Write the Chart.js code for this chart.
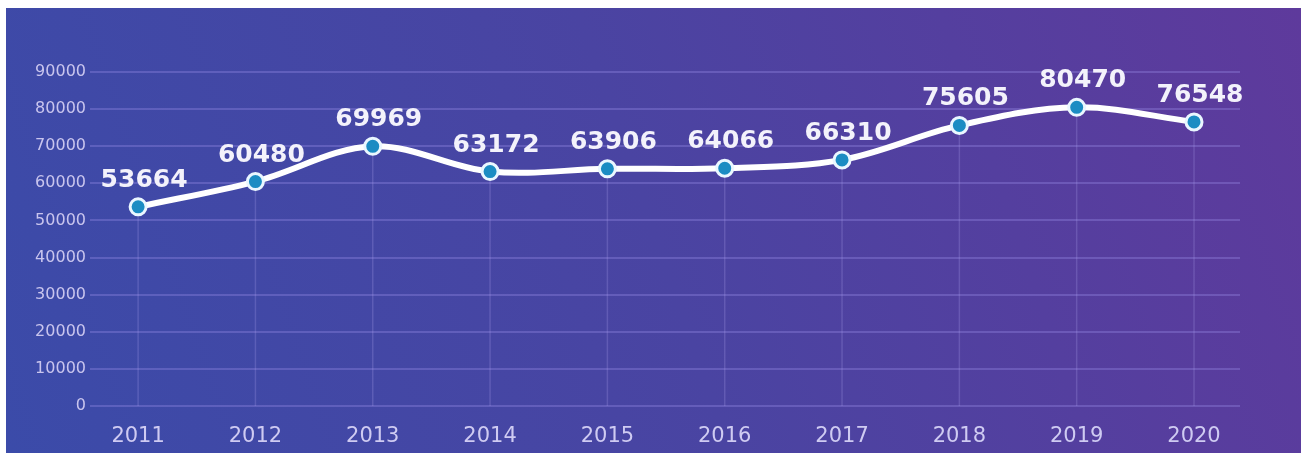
<!DOCTYPE html>
<html>
<head>
<meta charset="utf-8">
<script src="https://cdn.jsdelivr.net/npm/chart.js@4.4.1/dist/chart.umd.min.js"></script>
<style>
  html, body { margin: 0; padding: 0; background: #fff; }
  #wrap { width: 1301px; height: 457px; position: relative; }
</style>
</head>
<body>
<div id="wrap"><canvas id="trendChart" width="1301" height="457"></canvas></div>
<script>
// values
const years = [2011, 2012, 2013, 2014, 2015, 2016, 2017, 2018, 2019, 2020];
const values = [53664, 60480, 69969, 63172, 63906, 64066, 66310, 75605, 80470, 76548];
const yMin = 0;
const yMax = 90000;
const yStep = 10000;

// gradient panel behind the chart, leaves a thin white margin like the scan
const panelBg = {
    id: "panelBg",
    beforeDraw(chart) {
        const ctx = chart.ctx;
        ctx.save();
        ctx.fillStyle = "#ffffff";
        ctx.fillRect(0, 0, chart.width, chart.height);
        const g = ctx.createLinearGradient(6, 453, 1301, 8);
        g.addColorStop(0, "#3b4ba9");
        g.addColorStop(0.5, "#4a44a2");
        g.addColorStop(1, "#5e3a9c");
        ctx.fillStyle = g;
        ctx.fillRect(6, 8, chart.width - 6, 445);
        ctx.restore();
    }
};

// thin vertical lines dropping from each point to the base line
const dropLines = {
    id: "dropLines",
    beforeDatasetsDraw(chart) {
        const ctx = chart.ctx;
        const meta = chart.getDatasetMeta(0);
        const bottom = chart.chartArea.bottom;
        ctx.save();
        ctx.strokeStyle = "rgba(170, 160, 235, 0.25)";
        ctx.lineWidth = 1.5;
        meta.data.forEach(pt => {
            ctx.beginPath();
            ctx.moveTo(pt.x, pt.y);
            ctx.lineTo(pt.x, bottom);
            ctx.stroke();
        });
        ctx.restore();
    }
};

// big white value labels above the points
const valueLabels = {
    id: "valueLabels",
    afterDatasetsDraw(chart) {
        const ctx = chart.ctx;
        const meta = chart.getDatasetMeta(0);
        ctx.save();
        ctx.font = "bold 25px 'DejaVu Sans'";
        ctx.fillStyle = "#f3f2fb";
        ctx.textAlign = "center";
        ctx.textBaseline = "alphabetic";
        meta.data.forEach((pt, i) => {
            ctx.fillText(String(values[i]), pt.x + 6, pt.y - 20);
        });
        ctx.restore();
    }
};

const ctx = document.getElementById("trendChart").getContext("2d");

new Chart(ctx, {
    type: "line",
    data: {
        datasets: [{
            data: years.map((y, i) => ({ x: y, y: values[i] })),
            borderColor: "#ffffff",
            borderWidth: 6,
            tension: 0.35,
            fill: false,
            pointRadius: 8,
            pointBorderWidth: 3,
            pointBackgroundColor: "#1b8cc3",
            pointBorderColor: "#eaf7ff"
        }]
    },
    options: {
        responsive: false,
        animation: false,
        layout: { padding: { left: 6, right: 61, top: 72, bottom: 4 } },
        plugins: {
            legend: { display: false },
            tooltip: { enabled: false }
        },
        scales: {
            x: {
                type: "linear",
                min: 2010.59,
                max: 2020.392,
                grid: { display: false },
                border: { display: false },
                afterBuildTicks: scale => {
                    scale.ticks = years.map(v => ({ value: v }));
                },
                afterFit: scale => { scale.height = 47; },
                ticks: {
                    padding: 10,
                    color: "#cfcbf2",
                    font: { family: "'DejaVu Sans'", size: 21 },
                    callback: v => String(v)
                }
            },
            y: {
                min: yMin,
                max: yMax,
                afterFit: scale => { scale.width = 84; },
                grid: {
                    color: "rgba(160, 145, 235, 0.32)",
                    lineWidth: 2,
                    drawTicks: false
                },
                border: { display: false },
                ticks: {
                    stepSize: yStep,
                    padding: 4,
                    color: "#c9c5ee",
                    font: { family: "'DejaVu Sans'", size: 16 },
                    callback: v => String(v)
                }
            }
        }
    },
    plugins: [panelBg, dropLines, valueLabels]
});
</script>
</body>
</html>
